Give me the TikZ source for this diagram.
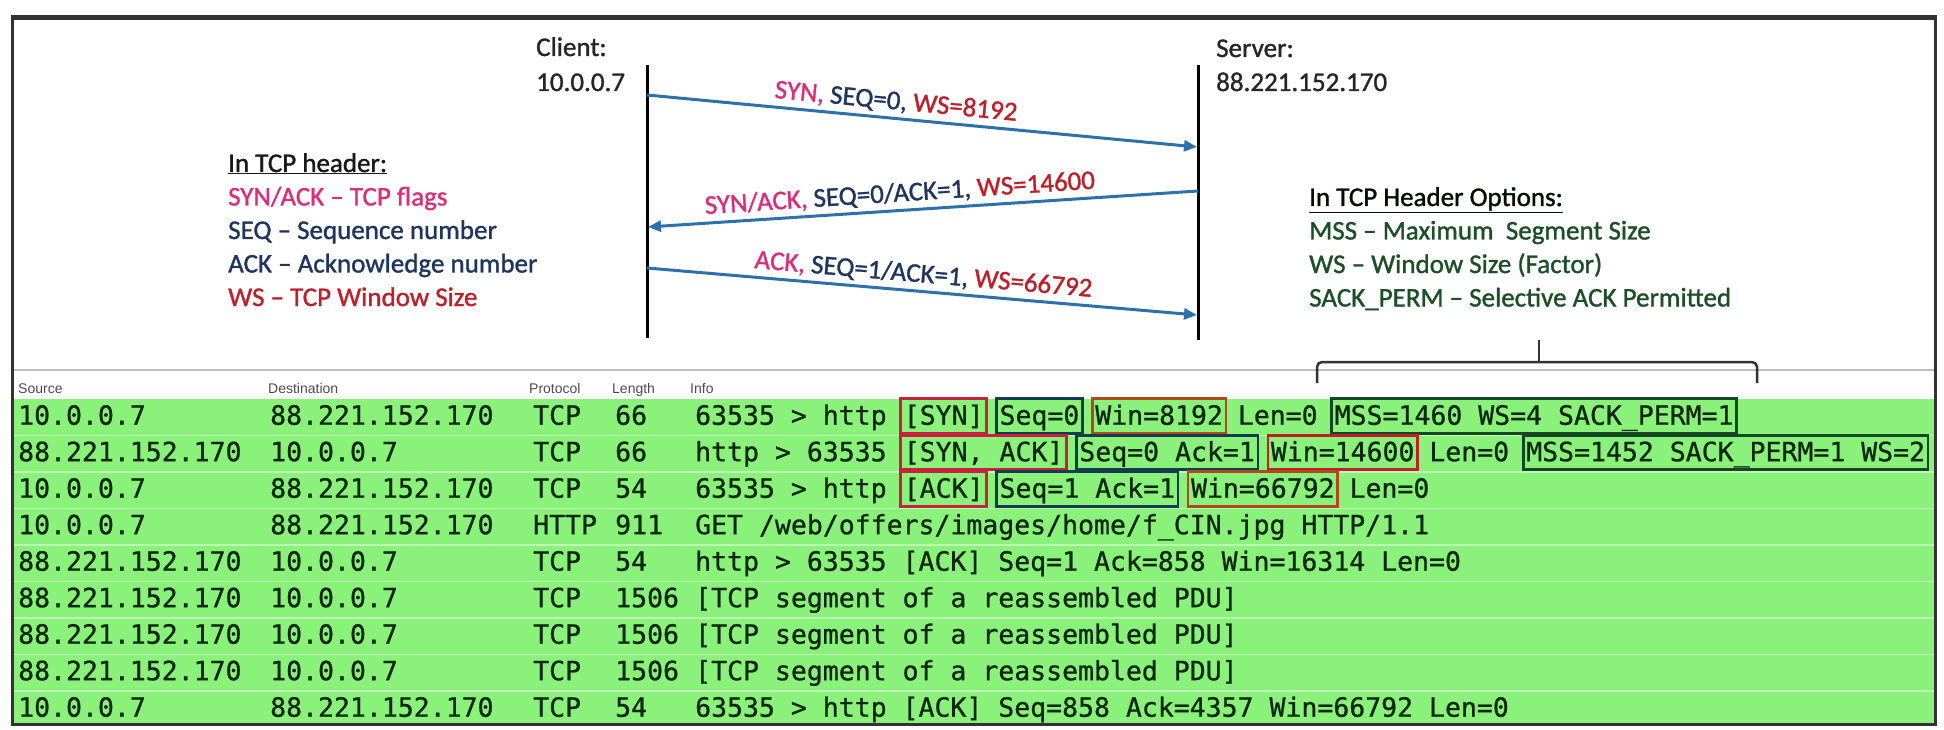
\documentclass[tikz,border=0pt]{standalone}
\usepackage{fontspec}
\usetikzlibrary{arrows.meta}
\newfontfamily\calfnt[FakeBold=1.2]{Carlito}
\newfontfamily\monofnt[FakeBold=0.9]{DejaVu Sans Mono}
\newfontfamily\hdrfnt{Liberation Sans}
\definecolor{pinkc}{RGB}{222,45,120}
\definecolor{navyc}{RGB}{31,52,96}
\definecolor{redc}{RGB}{192,30,40}
\definecolor{optg}{RGB}{28,78,40}
\definecolor{arrowc}{RGB}{46,112,172}
\definecolor{rowg}{RGB}{138,242,122}
\definecolor{rowsep}{RGB}{190,248,180}
\definecolor{rowtext}{RGB}{16,40,16}
\definecolor{bxred}{RGB}{200,32,62}
\definecolor{bxnavy}{RGB}{22,58,80}
\definecolor{bxorange}{RGB}{178,72,32}
\definecolor{bxgreen}{RGB}{20,72,36}
\begin{document}
\begin{tikzpicture}[x=1pt,y=-1pt,
  toptxt/.style={font=\calfnt\fontsize{27}{32}\selectfont, anchor=base west, inner sep=0pt},
  rowtxt/.style={font=\monofnt\fontsize{26.5}{30}\selectfont, text=rowtext, anchor=base west, inner sep=0pt},
  hdrtxt/.style={font=\hdrfnt\fontsize{14}{16}\selectfont, text=black!70, anchor=base west, inner sep=0pt},
  boxd/.style={draw, line width=2.6pt, inner xsep=3pt, inner ysep=2pt, text height=24pt, text depth=6.5pt, xshift=-3pt},
  msg/.style={draw=arrowc, line width=3pt, -{Triangle[length=13pt,width=11pt]}},
  life/.style={draw=black, line width=3pt},
  lbl/.style={font=\calfnt\fontsize{27}{32}\selectfont, sloped, above=4pt, inner sep=0pt}
]
\useasboundingbox (0,0) rectangle (1944,730);
\fill[white] (0,0) rectangle (1944,730);

% ---------- lifelines ----------
\node[toptxt, text=black!85] (clientlbl) at (536,56) {Client:};
\node[toptxt, text=black!85] (clientip) at (536,91) {10.0.0.7};
\node[toptxt, text=black!85] (serverlbl) at (1216,57) {Server:};
\node[toptxt, text=black!85] (serverip) at (1216,91) {88.221.152.170};
\coordinate (cTop) at (647,65);
\coordinate (cBot) at (647,338);
\coordinate (sTop) at (1198,65);
\coordinate (sBot) at (1198,340);
\draw[life] (cTop) -- (cBot);
\draw[life] (sTop) -- (sBot);

% ---------- messages ----------
\coordinate (m1a) at (647,95);
\coordinate (m1b) at (1197,147);
\coordinate (m2a) at (1198,191);
\coordinate (m2b) at (648,227);
\coordinate (m3a) at (647,268);
\coordinate (m3b) at (1197,315);
\draw[msg] (m1a) -- (m1b) node[lbl, pos=0.45] (l1) {\color{pinkc}SYN, \color{navyc}SEQ=0, \color{redc}WS=8192};
\draw[msg] (m2a) -- (m2b) node[lbl, pos=0.54] (l2) {\color{pinkc}SYN/ACK, \color{navyc}SEQ=0/ACK=1, \color{redc}WS=14600};
\draw[msg] (m3a) -- (m3b) node[lbl, pos=0.5] (l3) {\color{pinkc}ACK, \color{navyc}SEQ=1/ACK=1, \color{redc}WS=66792};

% ---------- left legend ----------
\node[toptxt, text=black!90] (lh) at (228,172) {\underline{In TCP header:}};
\node[toptxt, text=pinkc] (la) at (228,205.5) {SYN/ACK – TCP flags};
\node[toptxt, text=navyc] (lb) at (228,239) {SEQ – Sequence number};
\node[toptxt, text=navyc] (lc) at (228,272.5) {ACK – Acknowledge number};
\node[toptxt, text=redc] (ld) at (228,306) {WS – TCP Window Size};

% ---------- right legend ----------
\node[toptxt, text=black!85!optg] (rh) at (1309,206) {\underline{In TCP Header Options:}};
\node[toptxt, text=optg] (ra) at (1309,239.5) {MSS – Maximum\ \ Segment Size};
\node[toptxt, text=optg] (rb) at (1309,273) {WS – Window Size (Factor)};
\node[toptxt, text=optg] (rc) at (1309,306.5) {SACK\_PERM – Selective ACK Permitted};

% ---------- table header ----------
\fill[white] (12,370) rectangle (1935,400);
\draw[black!25, line width=1.5pt] (12,370) -- (1935,370);
\node[hdrtxt] (hsrc) at (18,393) {Source};
\node[hdrtxt] (hdst) at (268,393) {Destination};
\node[hdrtxt] (hpro) at (529,393) {Protocol};
\node[hdrtxt] (hlen) at (612,393) {Length};
\node[hdrtxt] (hinf) at (690,393) {Info};

% brace
\coordinate (brL) at (1317,383);
\coordinate (brR) at (1757,383);
\coordinate (brT) at (1539,340);
\draw[black!80, line width=2.5pt, rounded corners=5pt] (brL) -- (1317,362) -- (1757,362) -- (brR);
\draw[black!80, line width=2.5pt] (brT) -- (1539,362);

% ---------- green rows ----------
\fill[rowg] (12,399) rectangle (1935,724);
\foreach \k in {1,...,8} {
  \draw[rowsep, line width=1.5pt] (12,{399+36.5*\k}) -- (1935,{399+36.5*\k});
}

\foreach \i/\s/\d/\p/\l in {1/10.0.0.7/88.221.152.170/TCP/66,
  2/88.221.152.170/10.0.0.7/TCP/66,
  3/10.0.0.7/88.221.152.170/TCP/54,
  4/10.0.0.7/88.221.152.170/HTTP/911,
  5/88.221.152.170/10.0.0.7/TCP/54,
  6/88.221.152.170/10.0.0.7/TCP/1506,
  7/88.221.152.170/10.0.0.7/TCP/1506,
  8/88.221.152.170/10.0.0.7/TCP/1506,
  9/10.0.0.7/88.221.152.170/TCP/54} {
  \node[rowtxt] (src\i) at (18,{424.7+36.5*(\i-1)}) {\s};
  \node[rowtxt] (dst\i) at (270,{424.7+36.5*(\i-1)}) {\d};
  \node[rowtxt] (pro\i) at (533,{424.7+36.5*(\i-1)}) {\p};
  \node[rowtxt] (len\i) at (615,{424.7+36.5*(\i-1)}) {\l};
}

% row 1
\node[rowtxt] (i1a) at (695,424.7) {63535 > http};
\node[rowtxt, boxd, draw=bxred] (i1b) at ({695+13*15.96},424.7) {[SYN]};
\node[rowtxt, boxd, draw=bxnavy] (i1c) at ({695+19*15.96},424.7) {Seq=0};
\node[rowtxt, boxd, draw=bxorange] (i1d) at ({695+25*15.96},424.7) {Win=8192};
\node[rowtxt] (i1e) at ({695+34*15.96},424.7) {Len=0};
\node[rowtxt, boxd, draw=bxgreen] (i1f) at ({695+40*15.96},424.7) {MSS=1460 WS=4 SACK\_PERM=1};
% row 2
\node[rowtxt] (i2a) at (695,461.2) {http > 63535};
\node[rowtxt, boxd, draw=bxred] (i2b) at ({695+13*15.96},461.2) {[SYN, ACK]};
\node[rowtxt, boxd, draw=bxnavy] (i2c) at ({695+24*15.96},461.2) {Seq=0 Ack=1};
\node[rowtxt, boxd, draw=redc] (i2d) at ({695+36*15.96},461.2) {Win=14600};
\node[rowtxt] (i2e) at ({695+46*15.96},461.2) {Len=0};
\node[rowtxt, boxd, draw=bxgreen] (i2f) at ({695+52*15.96},461.2) {MSS=1452 SACK\_PERM=1 WS=2};
% row 3
\node[rowtxt] (i3a) at (695,497.7) {63535 > http};
\node[rowtxt, boxd, draw=bxred] (i3b) at ({695+13*15.96},497.7) {[ACK]};
\node[rowtxt, boxd, draw=bxnavy] (i3c) at ({695+19*15.96},497.7) {Seq=1 Ack=1};
\node[rowtxt, boxd, draw=bxorange] (i3d) at ({695+31*15.96},497.7) {Win=66792};
\node[rowtxt] (i3e) at ({695+41*15.96},497.7) {Len=0};
% rows 4-9
\node[rowtxt] (i4) at (695,534.2) {GET /web/offers/images/home/f\_CIN.jpg HTTP/1.1};
\node[rowtxt] (i5) at (695,570.7) {http > 63535 [ACK] Seq=1 Ack=858 Win=16314 Len=0};
\node[rowtxt] (i6) at (695,607.2) {[TCP segment of a reassembled PDU]};
\node[rowtxt] (i7) at (695,643.7) {[TCP segment of a reassembled PDU]};
\node[rowtxt] (i8) at (695,680.2) {[TCP segment of a reassembled PDU]};
\node[rowtxt] (i9) at (695,716.7) {63535 > http [ACK] Seq=858 Ack=4357 Win=66792 Len=0};

% ---------- frame ----------
\draw[black!80, line width=3pt] (12,19) rectangle (1935,724);
\draw[black!80, line width=5pt] (10.5,18) -- (1936.5,18);
\end{tikzpicture}
\end{document}
